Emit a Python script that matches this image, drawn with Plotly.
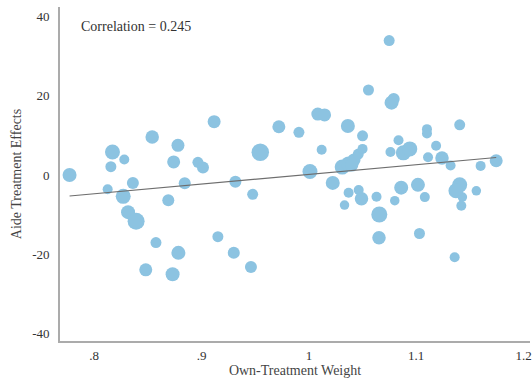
import plotly.graph_objects as go
import numpy as np

# Own-treatment weight for each unit
own_weight = [
    0.777, 0.817, 0.8155, 0.8125, 0.828, 0.827, 0.836, 0.8315, 0.839, 0.854,
    0.8575, 0.848, 0.874, 0.869, 0.878, 0.8843, 0.8784, 0.873, 0.8966, 0.9013,
    0.9117, 0.9152, 0.9315, 0.930, 0.9476, 0.946, 0.9547, 0.972, 0.9907, 1.001,
    1.0083, 1.0146, 1.0119, 1.0222, 1.0363, 1.0332, 1.031, 1.037, 1.042, 1.046,
    1.040, 1.050, 1.050, 1.037, 1.0464, 1.049, 1.0555, 1.063, 1.0656, 1.0653,
    1.0748, 1.077, 1.079, 1.076, 1.0835, 1.080, 1.086, 1.088, 1.094, 1.1016,
    1.108, 1.103, 1.110, 1.110, 1.111, 1.1185, 1.124, 1.132, 1.1358, 1.1405,
    1.1405, 1.137, 1.143, 1.142, 1.156, 1.160, 1.1745,
]

# Aide treatment effect for each unit
aide_effect = [
    0.0, 5.8, 2.1, -3.6, 3.9, -5.4, -2.0, -9.4, -11.7, 9.6,
    -17.1, -24.0, 3.3, -6.4, 7.5, -2.1, -19.7, -25.1, 3.2, 1.9,
    13.5, -15.6, -1.7, -19.7, -4.9, -23.3, 5.75, 12.2, 10.8, 0.9,
    15.4, 15.2, 6.4, -2.0, 12.4, -7.6, 2.0, 2.8, 3.8, 5.3,
    2.5, 9.9, 6.6, -4.5, -3.8, -6.0, 21.5, -5.5, -10.0, -15.9,
    34.0, 18.3, 19.2, 5.8, 8.8, -6.5, -3.2, 5.6, 6.6, -2.5,
    -5.6, -14.8, 11.6, 10.5, 4.5, 7.4, 4.3, 2.4, -20.8, 12.7,
    -2.5, -4.0, -5.6, -7.8, -4.0, 2.3, 3.6,
]

# Bubble diameters (px)
bubble_size = [
    14, 15, 11, 10, 10, 15, 12, 14, 17, 13.5,
    11, 13, 13, 12, 13, 12, 14, 14, 11, 12,
    13, 11, 12, 12, 11, 12, 17.5, 13, 11, 15,
    13, 13, 10, 14, 14, 9.5, 15, 15, 13, 11,
    13, 11, 10, 10, 10, 13.5, 11, 10, 16, 13.5,
    11, 14, 12, 10, 10, 9.5, 14, 15, 15, 14,
    10, 11, 10, 10, 10, 10, 13.5, 10, 10, 11,
    15, 15, 9.5, 10, 9.5, 10, 13,
]

# Linear fit: effect = fit_at_one + fit_slope * (weight - 1)
fit_at_one = 0.15
fit_slope = 24.5
corr_text = "Correlation = 0.245"

x_ticks = [0.8, 0.9, 1.0, 1.1, 1.2]
x_tick_text = [".8", ".9", "1", "1.1", "1.2"]
y_ticks = [-40, -20, 0, 20, 40]
y_tick_text = ["-40", "-20", "0", "20", "40"]

serif = "Liberation Serif"

fig = go.Figure()

fig.add_trace(go.Scatter(
    x=own_weight, y=aide_effect, mode="markers",
    marker=dict(size=bubble_size, sizemode="diameter", color="#8cc3e1",
                line=dict(width=0), opacity=1),
    hoverinfo="skip", showlegend=False,
))

x_line = np.array([min(own_weight), max(own_weight)])
y_line = fit_at_one + fit_slope * (x_line - 1)
fig.add_trace(go.Scatter(
    x=x_line, y=y_line, mode="lines",
    line=dict(color="#6e6e6e", width=1.2),
    hoverinfo="skip", showlegend=False,
))

fig.add_annotation(
    text=corr_text, xref="paper", yref="paper", x=0.040, y=0.943,
    xanchor="left", yanchor="middle", showarrow=False,
    font=dict(family=serif, size=14, color="#333333"),
)

fig.update_layout(
    width=532, height=386,
    margin=dict(l=60, r=0, t=7, b=45),
    paper_bgcolor="white", plot_bgcolor="white",
    font=dict(family=serif, size=13, color="#444444"),
    xaxis=dict(
        range=[0.7681, 1.206], tickvals=x_ticks, ticktext=x_tick_text,
        showgrid=False, zeroline=False, showline=True,
        linecolor="#ababab", linewidth=1.6, ticks="",
        ticklabelstandoff=2, ticklabeloverflow="allow",
        tickfont=dict(family=serif, size=13, color="#333333"),
        title=dict(text="Own-Treatment Weight", standoff=3,
                   font=dict(family=serif, size=14, color="#444444")),
    ),
    yaxis=dict(
        range=[-42.0, 42.5], tickvals=y_ticks, ticktext=y_tick_text,
        showgrid=False, zeroline=False, showline=True,
        linecolor="#ababab", linewidth=1.6, ticks="",
        ticklabelstandoff=6,
        tickfont=dict(family=serif, size=13, color="#333333"),
        title=dict(text="Aide Treatment Effects", standoff=7,
                   font=dict(family=serif, size=14, color="#444444")),
    ),
)

fig.write_html("out.html")
